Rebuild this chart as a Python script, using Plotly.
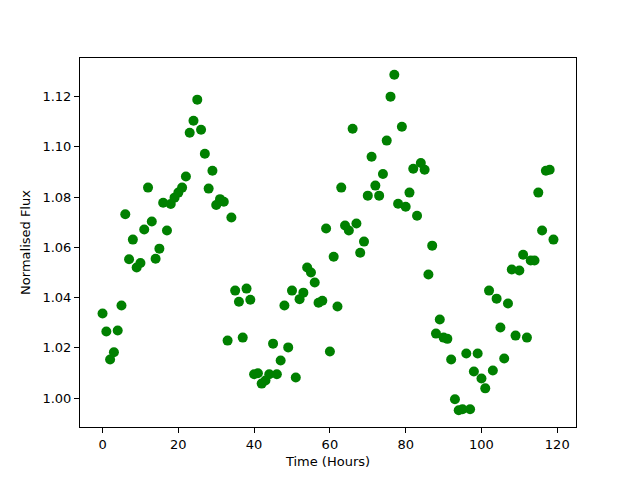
import plotly.graph_objects as go

hours = list(range(120))
flux = [
    1.0337, 1.0265, 1.0154, 1.0183, 1.0269, 1.0369, 1.0732, 1.0553, 1.0631, 1.0520,
    1.0538, 1.0671, 1.0838, 1.0703, 1.0555, 1.0595, 1.0778, 1.0667, 1.0773, 1.0798,
    1.0818, 1.0838, 1.0882, 1.1056, 1.1104, 1.1188, 1.1068, 1.0973, 1.0834, 1.0905,
    1.0769, 1.0792, 1.0782, 1.0229, 1.0719, 1.0428, 1.0384, 1.0241, 1.0436, 1.0392,
    1.0095, 1.0099, 1.0058, 1.0070, 1.0095, 1.0217, 1.0095, 1.0150, 1.0369, 1.0202,
    1.0428, 1.0082, 1.0394, 1.0420, 1.0520, 1.0500, 1.0460, 1.0380, 1.0388, 1.0675,
    1.0186, 1.0563, 1.0365, 1.0838, 1.0687, 1.0667, 1.1072, 1.0695, 1.0579, 1.0623,
    1.0806, 1.0961, 1.0846, 1.0806, 1.0892, 1.1025, 1.1200, 1.1287, 1.0774, 1.1080,
    1.0762, 1.0818, 1.0913, 1.0726, 1.0936, 1.0909, 1.0492, 1.0607, 1.0257, 1.0313,
    1.0241, 1.0236, 1.0154, 0.9996, 0.9952, 0.9956, 1.0178, 0.9956, 1.0106, 1.0178,
    1.0078, 1.0039, 1.0428, 1.0110, 1.0396, 1.0281, 1.0158, 1.0377, 1.0512, 1.0249,
    1.0508, 1.0571, 1.0241, 1.0548, 1.0548, 1.0818, 1.0667, 1.0905, 1.0909, 1.0631,
]
x_ticks = [0, 20, 40, 60, 80, 100, 120]
y_ticks = [1.00, 1.02, 1.04, 1.06, 1.08, 1.10, 1.12]

def padded(vals, frac=0.05):
    lo, hi = min(vals), max(vals)
    m = (hi - lo) * frac
    return [lo - m, hi + m]

fig = go.Figure(go.Scatter(
    x=hours, y=flux, mode="markers",
    marker=dict(color="#008000", size=10, line=dict(width=0)),
))

font = dict(family="DejaVu Sans", size=13, color="black")
axis_common = dict(
    showgrid=False, zeroline=False, showline=True, mirror=True,
    linecolor="black", linewidth=1.1, ticks="outside", ticklen=5,
    tickwidth=1.1, tickcolor="black", tickfont=font,
)
fig.update_layout(
    width=640, height=480,
    margin=dict(l=72, r=72, t=50, b=61, autoexpand=False),
    paper_bgcolor="white", plot_bgcolor="white",
    showlegend=False, font=font,
    xaxis=dict(range=padded(hours), tickvals=x_ticks,
               ticktext=[str(v) for v in x_ticks],
               title=dict(text="Time (Hours)", font=font, standoff=6),
               **axis_common),
    yaxis=dict(range=padded(flux), tickvals=y_ticks,
               ticktext=[f"{v:.2f}" for v in y_ticks],
               title=dict(text="Normalised Flux", font=font, standoff=8),
               **axis_common),
)
fig.write_html("out.html")
